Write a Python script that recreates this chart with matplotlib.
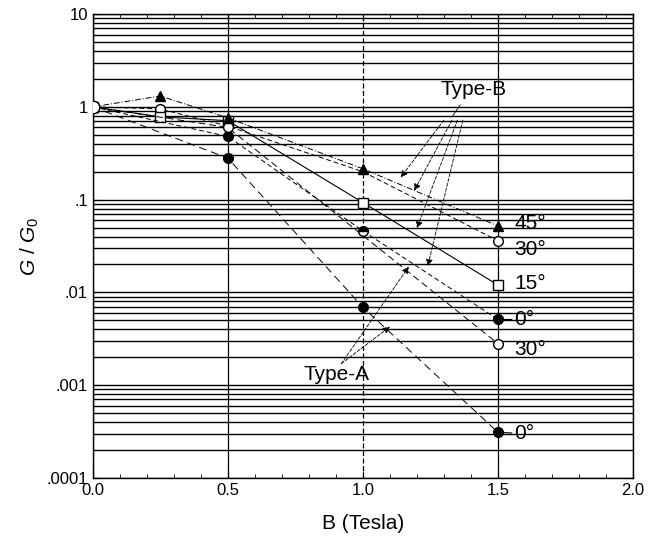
import numpy as np
import matplotlib
matplotlib.use("Agg")
import matplotlib.pyplot as plt
from matplotlib.ticker import FixedLocator, FixedFormatter, LogLocator, MultipleLocator

plt.rcParams['font.family'] = ['Liberation Sans', 'DejaVu Sans']
plt.rcParams['mathtext.fontset'] = 'custom'
plt.rcParams['mathtext.rm'] = 'Liberation Sans'
plt.rcParams['mathtext.it'] = 'Liberation Sans:italic'

# ---- data ----
b45_x = [0.0, 0.25, 0.5, 1.0, 1.5]
b45_y = [1.0, 1.31, 0.76, 0.215, 0.052]      # Type-B 45 deg (filled triangle)

b30_x = [0.0, 0.25, 0.5, 1.0, 1.5]
b30_y = [1.0, 0.95, 0.62, 0.20, 0.036]       # Type-B 30 deg (open circle)

b15_x = [0.0, 0.25, 0.5, 1.0, 1.5]
b15_y = [1.0, 0.78, 0.71, 0.093, 0.012]      # Type-B 15 deg (open square)

b0_x = [0.0, 0.5, 1.0, 1.5]
b0_y = [1.0, 0.48, 0.046, 0.0051]            # Type-B 0 deg (filled circle)

a30_x = [0.0, 0.5, 1.5]
a30_y = [1.0, 0.60, 0.0028]                  # Type-A 30 deg (open circle)

a0_x = [0.0, 0.5, 1.0, 1.5]
a0_y = [1.0, 0.28, 0.0069, 0.00031]          # Type-A 0 deg (filled circle)

end_labels = ['45°', '30°', '15°', '0°', '30°', '0°']

yticks = [1e-4, 1e-3, 1e-2, 1e-1, 1, 10]
ytick_labels = ['.0001', '.001', '.01', '.1', '1', '10']
xticks = [0.0, 0.5, 1.0, 1.5, 2.0]


def on_line(xs, ys, b):
    return 10 ** np.interp(b, xs, np.log10(ys))


fig = plt.figure(figsize=(6.58, 5.43), dpi=100)
ax = fig.add_axes([0.141, 0.120, 0.821, 0.854])
ax.set_yscale('log')
ax.set_xlim(0, 2.0)
ax.set_ylim(1e-4, 10)

# grid
ax.yaxis.set_major_locator(FixedLocator(yticks))
ax.yaxis.set_major_formatter(FixedFormatter(ytick_labels))
ax.yaxis.set_minor_locator(LogLocator(base=10, subs=np.arange(2, 10)))
ax.yaxis.set_minor_formatter(FixedFormatter([]))
ax.xaxis.set_major_locator(FixedLocator(xticks))
ax.xaxis.set_minor_locator(MultipleLocator(0.1))
ax.set_xticklabels(['0.0', '0.5', '1.0', '1.5', '2.0'])
ax.grid(True, which='both', axis='y', color='black', lw=1.0)
ax.grid(True, which='major', axis='x', color='black', lw=0.9)
xg = ax.get_xgridlines()
xg[2].set_linestyle((0, (4, 2)))
ax.set_axisbelow(True)

ax.tick_params(which='both', direction='in', top=True, right=True)
ax.tick_params(which='major', length=5, labelsize=12)
ax.tick_params(which='minor', length=3)
for s in ax.spines.values():
    s.set_linewidth(1.0)

lw = 0.7
ax.plot(b45_x, b45_y, color='black', lw=lw, ls=(0, (6, 2, 1, 2)),
        marker='^', ms=7, mfc='black', mec='black', zorder=5)
ax.plot(b30_x, b30_y, color='black', lw=lw, ls=(0, (5, 3)),
        marker='o', ms=7, mfc='white', mec='black', markevery=[0, 1, 2, 4], zorder=4)
ax.plot(b15_x, b15_y, color='black', lw=0.8, ls='-',
        marker='s', ms=7, mfc='white', mec='black', zorder=4)
ax.plot(b0_x, b0_y, color='black', lw=lw, ls=(0, (5, 3)),
        marker='o', ms=7, mfc='black', mec='black', markevery=[0, 1, 3], zorder=4)
ax.plot(b0_x[2], b0_y[2], marker='o', ms=7, mfc='black', mec='black',
        fillstyle='top', markerfacecoloralt='white', zorder=5)
ax.plot(a30_x, a30_y, color='black', lw=lw, ls=(0, (7, 4)),
        marker='o', ms=7, mfc='white', mec='black', zorder=4)
ax.plot(a0_x, a0_y, color='black', lw=lw, ls=(0, (8, 5)),
        marker='o', ms=7, mfc='black', mec='black', zorder=4)
# open circle at origin on top
ax.plot(b15_x[0], b15_y[0], marker='o', ms=9, mfc='white', mec='black', zorder=6)

# end labels
ends = [(b45_x[-1], b45_y[-1], 2), (b30_x[-1], b30_y[-1], -6),
        (b15_x[-1], b15_y[-1], 1), (b0_x[-1], b0_y[-1], 0),
        (a30_x[-1], a30_y[-1], -4), (a0_x[-1], a0_y[-1], -1)]
for (x, y, dy), lab in zip(ends, end_labels):
    leader = lab == '0°'
    ax.annotate(lab, xy=(x, y), xytext=(12, dy), textcoords='offset points',
                fontsize=15, va='center', ha='left',
                arrowprops=dict(arrowstyle='-', lw=0.8, color='black',
                                shrinkA=0, shrinkB=2) if leader else None)

# Type-B callout
ax.text(1.41, 1.55, 'Type-B', fontsize=15, ha='center', va='center')
ax.plot([1.36, 1.33], [1.05, 0.78], color='black', lw=0.6)
b_targets = [(b45_x, b45_y, 1.14, 1.30), (b30_x, b30_y, 1.19, 1.33),
             (b15_x, b15_y, 1.20, 1.35), (b0_x, b0_y, 1.24, 1.37)]
for xs, ys, b, bt in b_targets:
    ax.annotate('', xy=(b, on_line(xs, ys, b) * 1.2), xytext=(bt, 0.72),
                arrowprops=dict(arrowstyle='-|>', ls=(0, (4, 2)), lw=0.6,
                                color='black', mutation_scale=10,
                                shrinkA=0, shrinkB=0))

# Type-A callout
ax.text(0.78, 0.00102, 'Type-A', fontsize=15, ha='left', va='bottom')
a_targets = [(a0_x, a0_y, 1.10), (a30_x, a30_y, 1.17)]
for xs, ys, b in a_targets:
    ax.annotate('', xy=(b, on_line(xs, ys, b) * 1.15), xytext=(0.92, 0.0017),
                arrowprops=dict(arrowstyle='-|>', ls=(0, (4, 2)), lw=0.6,
                                color='black', mutation_scale=10,
                                shrinkA=0, shrinkB=0))

ax.set_xlabel('B (Tesla)', fontsize=15, labelpad=12)
ax.set_ylabel(r'$G\ /\ G_0$', fontsize=15, labelpad=4)

fig.savefig('out.png', dpi=100)
